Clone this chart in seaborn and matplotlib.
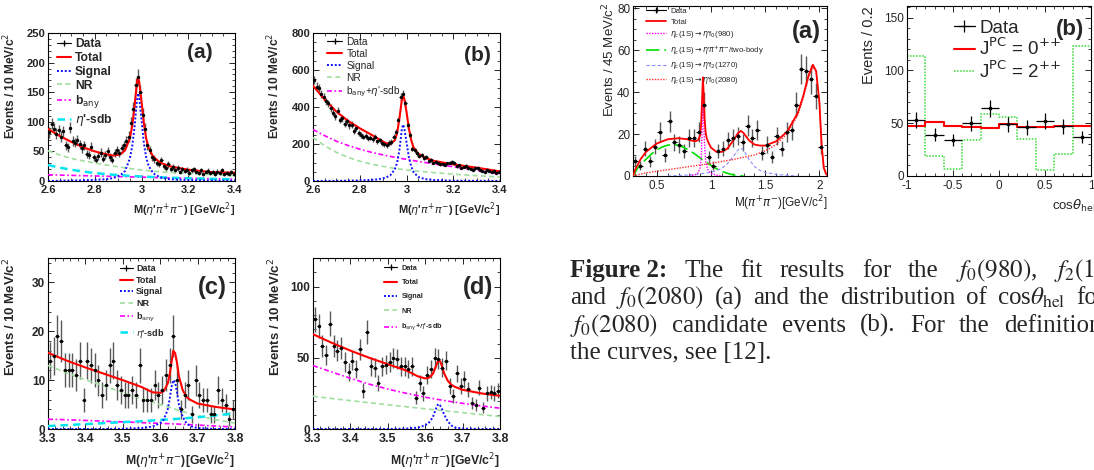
import numpy as np
import seaborn as sns
import matplotlib
matplotlib.use("Agg")
from matplotlib import pyplot as plt
from matplotlib.lines import Line2D
from matplotlib.ticker import MultipleLocator

# ---------------- eta_c -> eta' pi+ pi- , 10 MeV bins (panels a, b: 2.6-3.4 GeV)
etac_lo, etac_w = 2.60, 0.01
counts_a = [82, 97, 88, 80, 86, 75, 84, 60, 57, 90,
            68, 65, 70, 62, 55, 60, 45, 44, 58, 40,
            36, 42, 48, 38, 44, 50, 41, 36, 47, 52,
            47, 55, 60, 68, 75, 98, 122, 162, 176, 150,
            112, 88, 60, 52, 40, 37, 30, 29, 35, 26,
            22, 28, 20, 24, 18, 22, 15, 20, 17, 19,
            14, 18, 20, 16, 14, 18, 12, 15, 17, 13,
            15, 12, 16, 14, 18, 11, 13, 12, 15, 11]
counts_b = [545, 510, 500, 470, 455, 430, 420, 395, 370, 350,
            380, 330, 340, 310, 325, 300, 305, 270, 285, 260,
            250, 240, 245, 230, 235, 225, 240, 215, 220, 205,
            200, 195, 205, 210, 240, 265, 330, 455, 470, 420,
            300, 250, 175, 165, 150, 135, 140, 125, 130, 110,
            115, 100, 105, 95, 90, 92, 88, 95, 100, 102,
            98, 80, 85, 72, 78, 82, 70, 65, 60, 68,
            72, 60, 55, 50, 62, 55, 48, 52, 45, 50]

# fit curves
peak_x_ab = [2.60, 2.65, 2.70, 2.75, 2.80, 2.85, 2.88, 2.91, 2.93, 2.95, 2.96, 2.97, 2.98,
             2.985, 2.99, 3.00, 3.01, 3.02, 3.03, 3.05, 3.08, 3.12, 3.20, 3.30, 3.40]
total_a = [88, 76, 66, 57, 50, 45, 43, 45, 52, 72, 92, 125, 165,
           175, 168, 135, 98, 72, 56, 41, 31, 25, 19, 15, 14]
signal_a = [0, 0.5, 0.8, 1.2, 2, 3, 5, 10, 17, 38, 58, 90, 135,
            148, 142, 104, 64, 40, 26, 13, 6, 3, 1.5, 0.8, 0.5]
total_b = [515, 440, 375, 325, 285, 250, 228, 205, 200, 220, 260, 340, 440,
           460, 448, 375, 285, 222, 182, 148, 125, 108, 90, 72, 52]
signal_b = [0, 0.5, 1, 2, 3, 6, 9, 18, 30, 62, 100, 170, 280,
            305, 290, 210, 130, 80, 48, 22, 10, 5, 2, 1, 0.5]
bkg_x_ab = [2.60, 2.65, 2.70, 2.75, 2.80, 2.85, 2.90, 2.95, 3.00,
            3.05, 3.10, 3.15, 3.20, 3.25, 3.30, 3.35, 3.40]
nr_a = [51, 44, 38, 34, 30.5, 27, 24, 21, 18.5, 16.5, 15, 13.8, 12.6, 11.6, 10.7, 9.8, 9]
sdb_a = [27, 22.5, 19, 16, 13.5, 11.5, 10, 8.7, 7.6, 6.7, 5.9, 5.2, 4.6, 4.1, 3.6, 3.2, 2.9]
bany_a = [10.5, 10, 9.5, 9, 8.5, 8, 7.5, 7, 6.5, 6, 5.5, 5, 4.6, 4.2, 3.8, 3.4, 3]
nr_b = [235, 190, 155, 128, 107, 91, 79, 68, 60, 53, 47, 42, 37, 33, 29, 25, 22]
bsdb_b = [278, 245, 215, 192, 172, 155, 141, 128, 117, 106, 96, 86, 77, 67, 58, 48, 38]

# ---------------- psi(3686) region (panels c, d: 3.3-3.8 GeV)
psi_lo, psi_w = 3.30, 0.01
counts_c = [14, 15, 19, 18, 12, 12, 12, 11, 14, 6,
            14, 13, 12, 10, 7, 9, 13, 14, 9, 8,
            7, 7, 8, 7, 13, 6, 6, 6, 9, 7,
            8, 11, 13, 19, 10, 4, 7, 9, 3, 10,
            7, 6, 6, 3, 3, 8, 6, 5, 2, 4]
counts_d = [77, 72, 58, 52, 74, 58, 55, 57, 47, 40,
            48, 42, 56, 27, 68, 44, 43, 32, 44, 45,
            47, 50, 49, 44, 44, 42, 44, 22, 32, 25,
            38, 42, 50, 49, 43, 48, 30, 23, 39, 30,
            35, 28, 18, 17, 29, 15, 25, 26, 25, 27]
peak_x_cd = [3.30, 3.35, 3.40, 3.45, 3.50, 3.55, 3.58, 3.60, 3.61, 3.62, 3.625,
             3.63, 3.635, 3.64, 3.645, 3.65, 3.66, 3.67, 3.68, 3.70, 3.75, 3.80]
total_c = [15.6, 14, 12.6, 11.3, 10, 8.6, 7.5, 7.4, 7.8, 9.3, 11,
           13.5, 16, 15.5, 13.5, 10.8, 8, 6.6, 6, 5.2, 4.5, 4.0]
signal_c = [0, 0, 0, 0, 0.05, 0.2, 0.5, 1.2, 2, 4, 6,
            8.5, 10, 9.5, 7.5, 5, 2.5, 1.2, 0.6, 0.2, 0, 0]
total_d = [66.5, 60.5, 55, 50, 45.5, 41, 37, 35.5, 36, 38.5, 41.5,
           45, 48, 47.5, 44, 39.5, 34, 31, 29.5, 27.5, 25, 23.3]
signal_d = [0, 0, 0, 0, 0, 0.3, 1, 2.5, 4.5, 8, 11.5,
            15, 17.5, 16.5, 14, 10.5, 5.5, 2.5, 1, 0.3, 0, 0]
bkg_x_cd = [3.30, 3.35, 3.40, 3.45, 3.50, 3.55, 3.60, 3.65, 3.70, 3.75, 3.80]
nr_c = [13, 11.5, 10.1, 8.8, 7.5, 6.2, 5.0, 3.8, 2.7, 1.9, 1.2]
bany_c = [2.0, 1.9, 1.75, 1.6, 1.45, 1.3, 1.15, 1.0, 0.8, 0.6, 0.4]
sdb_c = [0.6, 0.8, 1.0, 1.2, 1.4, 1.6, 1.85, 2.1, 2.4, 2.8, 3.2]
nr_d = [23, 21.4, 19.9, 18.4, 17.0, 15.6, 14.2, 12.8, 11.5, 10.1, 8.8]
bsdb_d = [44.5, 40, 35.6, 31.5, 28, 25, 22.3, 20, 18, 16.2, 14.6]

# ---------------- M(pi+pi-) in eta_c -> eta' pi+ pi-, 45 MeV bins
mpp_lo, mpp_w = 0.28, 0.045
counts_mpp = [7, 5, 13, 7, 14, 21, 10, 26, 16, 15,
              12, 18, 18, 21, 34, 9, 5, 12, 13, 17,
              18, 19, 16, 24, 18, 22, 11, 15, 9, 19,
              13, 21, 22, 34, 51, 50, 46, 38, 14]
mpp_x = [0.28, 0.30, 0.35, 0.40, 0.50, 0.60, 0.70, 0.78, 0.85, 0.88,
         0.90, 0.91, 0.92, 0.925, 0.93, 0.935, 0.94, 0.95, 0.96, 0.98,
         1.00, 1.05, 1.10, 1.15, 1.20, 1.25, 1.275, 1.30, 1.35, 1.40,
         1.45, 1.50, 1.60, 1.70, 1.80, 1.85, 1.90, 1.94, 1.97, 2.00,
         2.02, 2.04, 2.06, 2.07]
mpp_total = [0, 3, 8, 11.5, 15.5, 17.5, 18, 17.5, 16.5, 17,
             19.5, 26, 40, 47, 42, 34, 28, 21, 18, 15.5,
             13.5, 11.5, 11.5, 13, 16.5, 20.5, 21.5, 20.5, 17, 15,
             14.5, 14.5, 16.5, 21, 30, 38, 48, 53, 50, 35,
             15, 4, 1, 0.5]
twobody_x = [0.28, 0.32, 0.36, 0.40, 0.45, 0.50, 0.55, 0.60, 0.65, 0.70, 0.75,
             0.80, 0.85, 0.90, 0.95, 1.00, 1.05, 1.10, 1.15, 1.20, 1.25, 1.30]
twobody_y = [0, 3.5, 6, 8, 10.5, 12.5, 13.8, 14.7, 15, 14.6, 13.6,
             12.2, 10.5, 8.6, 6.7, 5, 3.5, 2.2, 1.3, 0.6, 0.2, 0]
f980_x = [0.80, 0.85, 0.88, 0.90, 0.91, 0.92, 0.925, 0.93, 0.94, 0.95, 0.97, 1.00, 1.05, 1.10]
f980_y = [0, 0.5, 1.5, 4, 9, 25, 35, 30, 15, 7, 3, 1.2, 0.4, 0]
f1270_x = [0.60, 0.80, 0.90, 1.00, 1.05, 1.10, 1.15, 1.20, 1.25, 1.275, 1.30,
           1.35, 1.40, 1.45, 1.50, 1.60, 1.70, 1.80]
f1270_y = [0, 0.5, 1, 1.8, 2.5, 3.8, 5.8, 9, 12.5, 13.3, 12.3,
           8, 4.5, 2.7, 1.7, 0.8, 0.3, 0]
f2080_x = [0.28, 0.40, 0.60, 0.80, 1.00, 1.20, 1.40, 1.50, 1.60, 1.70,
           1.80, 1.85, 1.90, 1.94, 1.97, 2.00, 2.02, 2.04, 2.07]
f2080_y = [0, 1.5, 3, 4.5, 6, 7.8, 10, 12, 15, 20,
           29, 37, 47, 52, 49.5, 35, 15, 4, 0.5]

# ---------------- helicity angle, 10 bins of 0.2
cos_edges = [-1.0, -0.8, -0.6, -0.4, -0.2, 0.0, 0.2, 0.4, 0.6, 0.8, 1.0]
counts_cos = [53, 39, 34, 50, 64, 49, 46, 52, 47, 37]
jpc0 = [47.5, 51.5, 47.5, 46, 45, 49.5, 46.5, 46, 47, 47.5]
jpc2 = [113.5, 18.5, 7, 34.5, 59, 56, 35.5, 6, 20.5, 123.5]

# tick labels (ROOT style)
ticks_ab = [2.6, 2.8, 3.0, 3.2, 3.4]
labels_ab = ["2.6", "2.8", "3", "3.2", "3.4"]
ticks_cd = [3.3, 3.4, 3.5, 3.6, 3.7, 3.8]
labels_cd = ["3.3", "3.4", "3.5", "3.6", "3.7", "3.8"]

# caption words, line by line (lines 1-3 are justified and run off the page edge)
cap_lines = [["The", "fit", "results", "for", "the", "$f_0(980)$,", "$f_2(1270)$,"],
             ["and", "$f_0(2080)$", "(a)", "and", "the", "distribution", "of",
              r"cos$\theta_{\rm hel}$", "for"],
             ["$f_0(2080)$", "candidate", "events", "(b).", "For", "the", "definitions", "of"],
             ["the curves, see [12]."]]

sns.set_theme(style="ticks")
plt.rcParams["font.family"] = ["Liberation Sans", "DejaVu Sans"]
plt.rcParams["axes.linewidth"] = 0.8

W, H = 1094, 470
fig = plt.figure(figsize=(W / 100, H / 100), dpi=100)
fig.patch.set_facecolor("white")


def px_axes(x0, y0, x1, y1):
    return fig.add_axes([x0 / W, 1 - y1 / H, (x1 - x0) / W, (y1 - y0) / H])


def frame(ax, xlim, ylim, xt, xl, yt, xminor, yminor, fs, weight, fsx=None):
    ax.set_xlim(xlim)
    ax.set_ylim(ylim)
    ax.set_xticks(xt)
    ax.set_xticklabels(xl, fontsize=fsx or fs, fontweight=weight)
    ax.set_yticks(yt)
    ax.set_yticklabels([f"{v:g}" for v in yt], fontsize=fs, fontweight=weight)
    ax.xaxis.set_minor_locator(MultipleLocator(xminor))
    ax.yaxis.set_minor_locator(MultipleLocator(yminor))
    ax.tick_params(which="both", direction="in", top=True, right=True, pad=2)
    ax.tick_params(axis="x", which="both", pad=3)
    ax.tick_params(which="major", length=4.5, width=0.7)
    ax.tick_params(which="minor", length=2.3, width=0.6)
    for s in ax.spines.values():
        s.set_color("black")


def data(ax, lo, w, counts, ms=6):
    n = np.asarray(counts, float)
    xc = lo + w * (np.arange(len(n)) + 0.5)
    ax.errorbar(xc, n, yerr=np.sqrt(n), fmt="none", ecolor="0.35", elinewidth=1.0, capsize=0, zorder=3)
    ax.errorbar(xc, n, xerr=w / 2, fmt="none", ecolor="black", elinewidth=0.8, capsize=0, zorder=3)
    sns.scatterplot(x=xc, y=n, ax=ax, color="black", s=ms, linewidth=0, zorder=6)


def curve(ax, x, y, color, ls, lw, z=4):
    sns.lineplot(x=x, y=y, ax=ax, color=color, linestyle=ls, lw=lw, zorder=z, legend=False)


data_handle = Line2D([], [], color="black", lw=0.8, marker="+", ms=5, mew=0.9)
red, blue, nrg, mag, cyan = "#ff0000", "#1010ff", "#9fdf9f", "#ff00ff", "#00e5f0"
ls_sig, ls_nr, ls_bany, ls_sdb = (0, (1, 1)), (0, (3, 2)), (0, (3, 1.5, 1, 1.5)), (0, (3, 2))

mev = r"Events / 10 MeV/c$^{2}$"
mlab = r"M($\eta$'$\pi^{+}\pi^{-}$) [GeV/c$^{2}$]"
mlab2 = r"M($\eta$'$\pi^{+}\pi^{-}$)[GeV/c$^{2}$]"


def left_panel(ax, counts, total, signal, comps, ylim, yt, yminor, xlim, xt, xl, xminor,
               lo, w, px, sty, letter, lab_y, xlab, xlab_y, leg):
    data(ax, lo, w, counts)
    for (cx, cy, col, ls, lw, lab) in comps:
        curve(ax, cx, cy, col, ls, lw)
    curve(ax, px, signal, blue, ls_sig, 1.4)
    curve(ax, px, total, red, "-", 1.5, 5)
    frame(ax, xlim, ylim, xt, xl, yt, xminor, yminor, sty["tick"], "bold", sty["tickx"])
    ax.set_ylabel(mev, fontsize=sty["ylab"], fontweight="bold", loc="top")
    ax.yaxis.set_label_coords(lab_y, 1.0)
    ax.set_xlabel(xlab, fontsize=sty["xlab"], fontweight="bold", loc="right")
    ax.xaxis.set_label_coords(1.0, xlab_y)
    ax.text(letter[0], letter[1], letter[2], transform=ax.transAxes, fontsize=sty["letter"],
            fontweight="bold", ha="center", va="center")
    handles = [data_handle, Line2D([], [], color=red, lw=1.5),
               Line2D([], [], color=blue, ls=ls_sig, lw=1.4)]
    handles += [Line2D([], [], color=c[2], ls=c[3], lw=c[4]) for c in comps]
    labels = ["Data", "Total", "Signal"] + [c[5] for c in comps]
    ax.legend(handles, labels, loc="upper left", bbox_to_anchor=leg["anchor"], frameon=False,
              prop={"size": leg["fs"], "weight": leg["weight"]}, borderpad=0, borderaxespad=0,
              handlelength=leg["hl"], handletextpad=leg["tp"], labelspacing=leg["ls"])


sty_top = dict(tick=8, tickx=8, ylab=8.6, xlab=7.9, letter=15)
sty_bot = dict(tick=8.5, tickx=9, ylab=9.5, xlab=8.8, letter=17)

# (a) top left
ax = px_axes(48, 33, 235, 181)
left_panel(ax, counts_a, total_a, signal_a,
           [(bkg_x_ab, nr_a, nrg, ls_nr, 1.2, "NR"),
            (bkg_x_ab, bany_a, mag, ls_bany, 1.2, r"b$_{\rm any}$"),
            (bkg_x_ab, sdb_a, cyan, ls_sdb, 1.8, r"$\eta$'-sdb")],
           (0, 250), [0, 50, 100, 150, 200, 250], 10, (2.6, 3.4), ticks_ab, labels_ab, 0.05,
           etac_lo, etac_w, peak_x_ab, sty_top, (0.81, 0.865, "(a)"), -0.16, mlab, -0.128,
           dict(anchor=(0.05, 0.965), fs=8.7, weight="bold", hl=1.1, tp=0.35, ls=0.15))

# (b) top middle
ax = px_axes(313, 33, 500, 181)
left_panel(ax, counts_b, total_b, signal_b,
           [(bkg_x_ab, nr_b, nrg, ls_nr, 1.2, "NR"),
            (bkg_x_ab, bsdb_b, mag, ls_bany, 1.2, r"b$_{\rm any}$+$\eta$'-sdb")],
           (0, 800), [0, 200, 400, 600, 800], 50, (2.6, 3.4), ticks_ab, labels_ab, 0.05,
           etac_lo, etac_w, peak_x_ab, sty_top, (0.88, 0.85, "(b)"), -0.165, mlab, -0.128,
           dict(anchor=(0.075, 0.975), fs=7.3, weight="normal", hl=1.5, tp=0.4, ls=0.2))

# (c) bottom left
ax = px_axes(48, 258, 235, 429)
left_panel(ax, counts_c, total_c, signal_c,
           [(bkg_x_cd, nr_c, nrg, ls_nr, 1.2, "NR"),
            (bkg_x_cd, bany_c, mag, ls_bany, 1.2, r"b$_{\rm any}$"),
            (bkg_x_cd, sdb_c, cyan, ls_sdb, 1.8, r"$\eta$'-sdb")],
           (0, 35), [0, 10, 20, 30], 2, (3.3, 3.8), ticks_cd, labels_cd, 0.02,
           psi_lo, psi_w, peak_x_cd, sty_bot, (0.88, 0.825, "(c)"), -0.157, mlab2, -0.133,
           dict(anchor=(0.385, 0.965), fs=6.5, weight="bold", hl=1.4, tp=0.4, ls=0.3))

# (d) bottom middle
ax = px_axes(313, 258, 500, 429)
left_panel(ax, counts_d, total_d, signal_d,
           [(bkg_x_cd, nr_d, nrg, ls_nr, 1.2, "NR"),
            (bkg_x_cd, bsdb_d, mag, ls_bany, 1.2, r"b$_{\rm any}$+$\eta$'-sdb")],
           (0, 120), [0, 50, 100], 10, (3.3, 3.8), ticks_cd, labels_cd, 0.02,
           psi_lo, psi_w, peak_x_cd, sty_bot, (0.88, 0.83, "(d)"), -0.157, mlab2, -0.133,
           dict(anchor=(0.38, 0.96), fs=5.2, weight="bold", hl=1.8, tp=0.6, ls=1.0))

# right (a): M(pi+ pi-)
ax = px_axes(633, 6, 827, 176)
data(ax, mpp_lo, mpp_w, counts_mpp, ms=7)
g2b, lblue, rdot = "#00e000", "#8c8cff", "#ff3030"
curve(ax, twobody_x, twobody_y, g2b, (0, (8, 3)), 1.2)
curve(ax, f1270_x, f1270_y, lblue, (0, (3, 2)), 0.8)
curve(ax, f2080_x, f2080_y, rdot, (0, (1, 1)), 1.0)
curve(ax, f980_x, f980_y, mag, (0, (1, 1)), 1.0)
curve(ax, mpp_x, mpp_total, red, "-", 1.3, 5)
frame(ax, (0.28, 2.07), (0, 81), [0.5, 1.0, 1.5, 2.0], ["0.5", "1", "1.5", "2"],
      [0, 20, 40, 60, 80], 0.1, 5, 8.5, "normal")
ax.set_ylabel(r"Events / 45 MeV/c$^{2}$", fontsize=9.5, loc="top")
ax.yaxis.set_label_coords(-0.08, 1.02)
ax.set_xlabel(r"M($\pi^{+}\pi^{-}$)[GeV/c$^{2}$]", fontsize=8.5, loc="right")
ax.xaxis.set_label_coords(1.0, -0.1)
ax.text(0.895, 0.85, "(a)", transform=ax.transAxes, fontsize=17, fontweight="bold",
        ha="center", va="center")
hs = [data_handle, Line2D([], [], color=red, lw=1.3),
      Line2D([], [], color=mag, ls=(0, (1, 1)), lw=1.0),
      Line2D([], [], color=g2b, ls=(0, (8, 3)), lw=1.2),
      Line2D([], [], color=lblue, ls=(0, (3, 2)), lw=0.8),
      Line2D([], [], color=rdot, ls=(0, (1, 1)), lw=1.0)]
ls_ = ["Data", "Total",
       r"$\eta_c$(1S)$\rightarrow\eta$'f$_0$(980)",
       r"$\eta_c$(1S)$\rightarrow\eta$'$\pi^{+}\pi^{-}$/two-body",
       r"$\eta_c$(1S)$\rightarrow\eta$'f$_2$(1270)",
       r"$\eta_c$(1S)$\rightarrow\eta$'f$_0$(2080)"]
ax.legend(hs, ls_, loc="upper left", bbox_to_anchor=(0.065, 0.99), frameon=False,
          prop={"size": 5.6}, borderpad=0, borderaxespad=0, handlelength=2.6,
          handletextpad=0.6, labelspacing=0.42)

# right (b): cos theta_hel
ax = px_axes(907, 6, 1091, 176)
cc = np.asarray(cos_edges)
ctr = (cc[:-1] + cc[1:]) / 2
sns.histplot(x=ctr, weights=jpc2, bins=cos_edges, element="step", fill=False,
             color="#33dd33", linestyle=(0, (1, 1)), lw=1.1, ax=ax)
sns.histplot(x=ctr, weights=jpc0, bins=cos_edges, element="step", fill=False,
             color=red, lw=1.5, ax=ax)
n = np.asarray(counts_cos, float)
ax.errorbar(ctr, n, yerr=np.sqrt(n), xerr=0.1, fmt="none", ecolor="black", elinewidth=0.9, zorder=5)
sns.scatterplot(x=ctr, y=n, ax=ax, color="black", s=7, linewidth=0, zorder=6)
frame(ax, (-1, 1), (0, 161), [-1, -0.5, 0, 0.5, 1], ["-1", "-0.5", "0", "0.5", "1"],
      [0, 50, 100, 150], 0.1, 10, 8.5, "normal")
ax.set_ylabel("Events / 0.2", fontsize=10.5, loc="top")
ax.yaxis.set_label_coords(-0.17, 1.0)
ax.set_xlabel(r"cos$\theta_{\rm hel}$", fontsize=9.5, loc="right")
ax.xaxis.set_label_coords(1.025, -0.13)
ax.text(0.886, 0.86, "(b)", transform=ax.transAxes, fontsize=16, fontweight="bold",
        ha="center", va="center")
hs = [Line2D([], [], color="black", lw=0.9, marker="+", ms=8, mew=0.9),
      Line2D([], [], color=red, lw=1.5),
      Line2D([], [], color="#33dd33", ls=(0, (1, 1)), lw=1.1)]
ax.legend(hs, ["Data", r"J$^{\rm PC}$ = 0$^{{+}{+}}$", r"J$^{\rm PC}$ = 2$^{{+}{+}}$"],
          loc="upper left", bbox_to_anchor=(0.255, 0.92), frameon=False, prop={"size": 13.5},
          borderpad=0, borderaxespad=0, handlelength=1.1, handletextpad=0.25, labelspacing=0.05)

# caption: words placed one by one so the justified lines break off like the scan
cap_fs = 18
renderer = fig.canvas.get_renderer()
head = fig.text(570 / W, 1 - 277 / H, "Figure 2:", fontsize=cap_fs, family="Liberation Serif",
                fontweight="bold", ha="left", va="baseline")
head_w = head.get_window_extent(renderer).width
# (line start x, index of the word whose start is pinned, pixel x of that word)
pins = [(570 + head_w, 6, 1054), (570, 8, 1076), (570, 6, 1004), (570, None, None)]
for i, (words, (x0, k, xk)) in enumerate(zip(cap_lines, pins)):
    y = 1 - (277 + 27.3 * i) / H
    txts = [fig.text(0, y, w, fontsize=cap_fs, family="Liberation Serif",
                     math_fontfamily="stix", ha="left", va="baseline") for w in words]
    widths = [t.get_window_extent(renderer).width for t in txts]
    if k is None:
        gap = 0.0
    else:
        first = 1 if i == 0 else 0
        gap = (xk - x0 - sum(widths[:k])) / (k + first)
    x = x0 + (gap if i == 0 else 0)
    for t, w in zip(txts, widths):
        t.set_x(x / W)
        x += w + gap

fig.savefig("out.png", dpi=100)
